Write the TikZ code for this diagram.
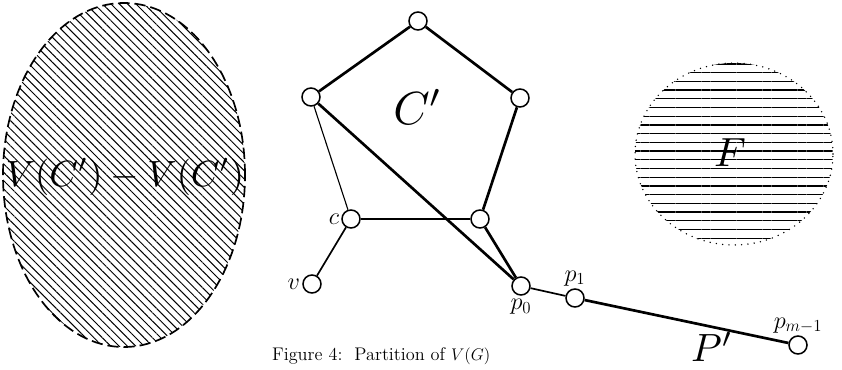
\documentclass[tikz,border=0pt]{standalone}
\usepackage{amsmath}
\usepackage{amssymb}
\usepackage{tikz}
\usetikzlibrary{arrows,patterns.meta}

\begin{document}
\begin{tikzpicture}[vertex/.style={circle,draw,fill=white,line width=1.1pt,inner sep=0pt,minimum size=0.45cm},
    heavy/.style={line width=1.9pt},
    mid/.style={line width=1.2pt},
    light/.style={line width=0.8pt},
    lbl/.style={font=\fontsize{17}{19}\selectfont}]
    \useasboundingbox (0,0) rectangle (21.05,9.225);

    % the two regions
    \fill[pattern={Lines[angle=-45,distance=4.2pt,line width=0.7pt]}] (3.1,4.85) ellipse (3.025 and 4.3);
    \draw[line width=1.2pt,dash pattern=on 8pt off 3.5pt] (3.1,4.85) ellipse (3.025 and 4.3);
    \node[scale=2.6,inner sep=0pt] (rest) at (3.125,4.8) {$V(C')-V(C')$};
    \fill[pattern={Lines[angle=0,distance=6.2pt,line width=0.9pt]}] (18.35,5.375) ellipse (2.475 and 2.275);
    \draw[line width=1.1pt,line cap=round,dash pattern=on 0pt off 4.5pt] (18.35,5.375) ellipse (2.475 and 2.275);
    \node[scale=2.9] (F) at (18.25,5.4) {$F$};

    \node[vertex] (t) at (10.45,8.7) {};
    \node[vertex] (l) at (7.775,6.8) {};
    \node[vertex] (r) at (13.0,6.775) {};
    \node[vertex] (b) at (12.0,3.75) {};
    \node[vertex] (c) at (8.775,3.75) {};
    \node[vertex] (v) at (7.8,2.125) {};
    \node[vertex] (p0) at (13.025,2.075) {};
    \node[vertex] (p1) at (14.375,1.775) {};
    \node[vertex] (pm) at (19.95,0.6) {};

    \path
     (l) edge[heavy] (t)
     (t) edge[heavy] (r)
     (r) edge[heavy] (b)
     (b) edge[heavy] (p0)
     (l) edge[heavy] (p0)
     (l) edge[light] (c)
     (c) edge[light] (b)
     (c) edge[mid] (v)
     (p0) edge[mid] (p1)
     (p1) edge[heavy] (pm);

    \node[scale=3.3] (Cp) at (10.45,6.55) {$C'$};
    \node[lbl,left=-2pt] at (c.west) {$c$};
    \node[lbl,left=-2pt] at (v.west) {$v$};
    \node[lbl,below=-1pt] at (p0.south) {$p_0$};
    \node[lbl,above=-2pt] at (p1.north) {$p_1$};
    \node[lbl,above=-2pt] at (pm.north) {$p_{m-1}$};
    \node[scale=2.8,inner sep=0pt] (P) at (17.8,0.56) {$P'$};
    \node (cap) at (9.53,0.33) {\fontsize{13}{15}\selectfont Figure 4:\ \ Partition of $V(G)$};
\end{tikzpicture}
\end{document}
